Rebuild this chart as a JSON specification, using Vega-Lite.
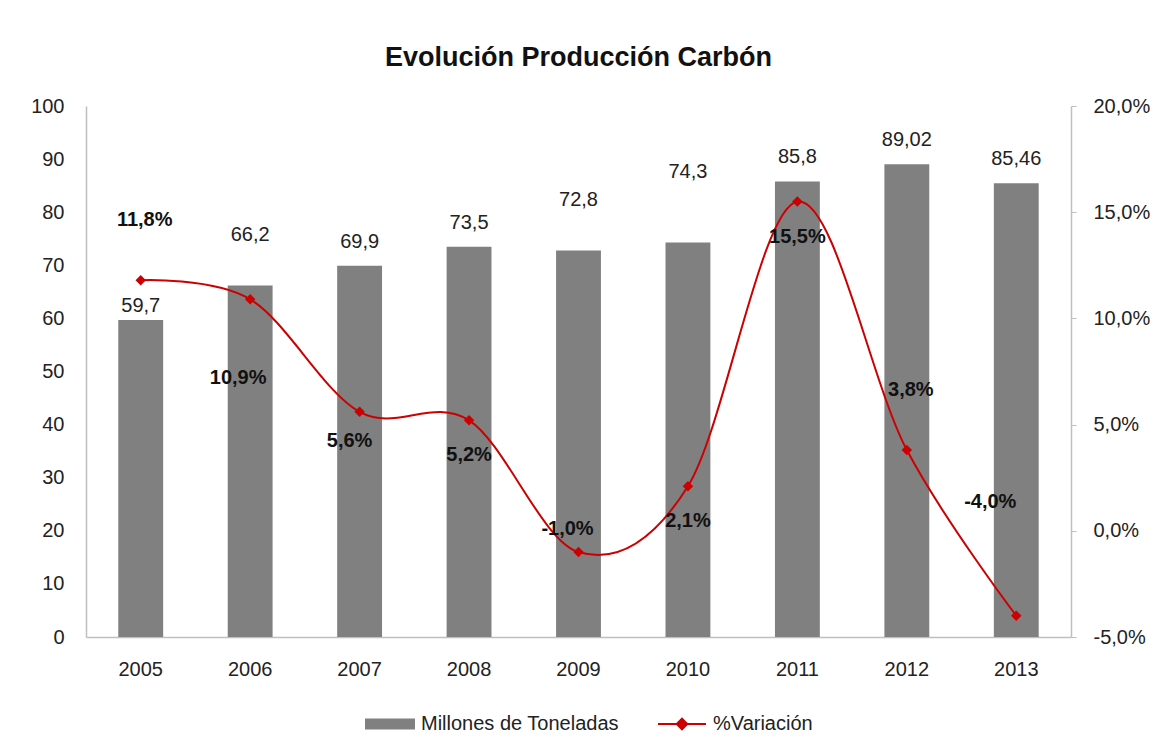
{
  "$schema": "https://vega.github.io/schema/vega-lite/v6.json",
  "autosize": {"type": "none"},
  "padding": {"left": 86, "top": 106, "right": 90, "bottom": 119},
  "width": 985,
  "height": 531,
  "background": "white",
  "title": {
    "text": "Evolución Producción Carbón",
    "font": "Liberation Sans",
    "fontWeight": "bold",
    "fontSize": 27,
    "color": "#111111",
    "anchor": "middle",
    "baseline": "alphabetic",
    "offset": 3
  },
  "config": {
    "locale": {"number": {"decimal": ",", "thousands": ".", "grouping": [3], "currency": ["", " €"], "minus": "-"}},
    "view": {"stroke": null},
    "font": "Liberation Sans",
    "axis": {"labelFont": "Liberation Sans", "labelFontSize": 20, "labelColor": "#222222", "domainColor": "#bfbfbf", "domainWidth": 1.5, "tickColor": "#bfbfbf", "grid": false, "title": null}
  },
  "data": {
    "values": [
      {"year": "2005", "prod": 59.7, "pct": 0.118},
      {"year": "2006", "prod": 66.2, "pct": 0.109},
      {"year": "2007", "prod": 69.9, "pct": 0.056},
      {"year": "2008", "prod": 73.5, "pct": 0.052},
      {"year": "2009", "prod": 72.8, "pct": -0.010},
      {"year": "2010", "prod": 74.3, "pct": 0.021},
      {"year": "2011", "prod": 85.8, "pct": 0.155},
      {"year": "2012", "prod": 89.02, "pct": 0.038},
      {"year": "2013", "prod": 85.46, "pct": -0.040}
    ]
  },
  "encoding": {
    "x": {
      "field": "year", "type": "ordinal",
      "scale": {"paddingInner": 0.59, "paddingOuter": 0.295},
      "axis": {"labelAngle": 0, "ticks": false, "labelPadding": 22}
    }
  },
  "layer": [
    {
      "encoding": {
        "y": {
          "field": "prod", "type": "quantitative",
          "scale": {"domain": [0, 100], "nice": false},
          "axis": {"orient": "left", "values": [0, 10, 20, 30, 40, 50, 60, 70, 80, 90, 100], "ticks": false, "labelPadding": 22}
        }
      },
      "layer": [
        {
          "mark": {"type": "bar", "color": "#808080"},
          "encoding": {"color": {"datum": "Millones de Toneladas", "type": "nominal",
            "scale": {"domain": ["Millones de Toneladas", "%Variación"], "range": ["#808080", "#cc0000"]},
            "legend": {
              "orient": "none", "legendX": 279, "legendY": 593, "direction": "horizontal", "title": null,
              "labelFont": "Liberation Sans", "labelFontSize": 20, "labelColor": "#222222", "labelLimit": 0,
              "symbolSize": 2304, "labelOffset": 6, "columnPadding": 35,
              "encode": {"symbols": {"update": {
                "shape": {"signal": "datum.value === 'Millones de Toneladas' ? 'M-1,-0.19H1V0.19H-1Z' : 'M-1,0H1M0,-0.22L0.22,0L0,0.22L-0.22,0Z'"},
                "fill": {"signal": "datum.value === 'Millones de Toneladas' ? '#808080' : '#cc0000'"},
                "stroke": {"signal": "datum.value === 'Millones de Toneladas' ? 'transparent' : '#cc0000'"},
                "strokeWidth": {"value": 2},
                "size": {"value": 2304},
                "opacity": {"value": 1}
              }}}
            }}}
        },
        {
          "transform": [{"filter": {"field": "year", "oneOf": ["2007", "2008", "2011", "2012", "2013"]}}],
          "mark": {"type": "text", "font": "Liberation Sans", "fontSize": 20, "color": "#222222", "baseline": "middle", "dy": -24},
          "encoding": {"text": {"field": "prod", "type": "quantitative", "format": ".4~r"}}
        },
        {
          "transform": [{"filter": {"field": "year", "equal": "2005"}}],
          "mark": {"type": "text", "font": "Liberation Sans", "fontSize": 20, "color": "#222222", "baseline": "middle", "dy": -14},
          "encoding": {"text": {"field": "prod", "type": "quantitative", "format": ".4~r"}}
        },
        {
          "transform": [{"filter": {"field": "year", "oneOf": ["2006", "2009"]}}],
          "mark": {"type": "text", "font": "Liberation Sans", "fontSize": 20, "color": "#222222", "baseline": "middle", "dy": -50},
          "encoding": {"text": {"field": "prod", "type": "quantitative", "format": ".4~r"}}
        },
        {
          "transform": [{"filter": {"field": "year", "equal": "2010"}}],
          "mark": {"type": "text", "font": "Liberation Sans", "fontSize": 20, "color": "#222222", "baseline": "middle", "dy": -70},
          "encoding": {"text": {"field": "prod", "type": "quantitative", "format": ".4~r"}}
        }
      ]
    },
    {
      "encoding": {
        "y": {
          "field": "pct", "type": "quantitative",
          "scale": {"domain": [-0.05, 0.2], "nice": false, "zero": false},
          "axis": {"orient": "right", "values": [-0.05, 0, 0.05, 0.1, 0.15, 0.2], "format": ".1%", "ticks": true, "tickSize": 5, "labelPadding": 17}
        }
      },
      "layer": [
        {
          "mark": {"type": "line", "interpolate": "cardinal", "tension": 0, "strokeWidth": 2,
            "point": {"shape": "diamond", "size": 110, "filled": true, "color": "#cc0000"}},
          "encoding": {"color": {"datum": "%Variación", "type": "nominal"}}
        },
        {
          "transform": [{"filter": {"field": "year", "oneOf": ["2008", "2010", "2011"]}}],
          "mark": {"type": "text", "font": "Liberation Sans", "fontWeight": "bold", "fontSize": 20, "color": "#111111", "baseline": "middle", "dy": 35},
          "encoding": {"text": {"field": "pct", "type": "quantitative", "format": ".1%"}}
        },
        {
          "transform": [{"filter": {"field": "year", "equal": "2007"}}],
          "mark": {"type": "text", "font": "Liberation Sans", "fontWeight": "bold", "fontSize": 20, "color": "#111111", "baseline": "middle", "dy": 29, "dx": -10},
          "encoding": {"text": {"field": "pct", "type": "quantitative", "format": ".1%"}}
        },
        {
          "transform": [{"filter": {"field": "year", "equal": "2006"}}],
          "mark": {"type": "text", "font": "Liberation Sans", "fontWeight": "bold", "fontSize": 20, "color": "#111111", "baseline": "middle", "dy": 79, "dx": -12},
          "encoding": {"text": {"field": "pct", "type": "quantitative", "format": ".1%"}}
        },
        {
          "transform": [{"filter": {"field": "year", "oneOf": ["2005", "2012"]}}],
          "mark": {"type": "text", "font": "Liberation Sans", "fontWeight": "bold", "fontSize": 20, "color": "#111111", "baseline": "middle", "dy": -60, "dx": 4},
          "encoding": {"text": {"field": "pct", "type": "quantitative", "format": ".1%"}}
        },
        {
          "transform": [{"filter": {"field": "year", "equal": "2009"}}],
          "mark": {"type": "text", "font": "Liberation Sans", "fontWeight": "bold", "fontSize": 20, "color": "#111111", "baseline": "middle", "dy": -23, "dx": -11},
          "encoding": {"text": {"field": "pct", "type": "quantitative", "format": ".1%"}}
        },
        {
          "transform": [{"filter": {"field": "year", "equal": "2013"}}],
          "mark": {"type": "text", "font": "Liberation Sans", "fontWeight": "bold", "fontSize": 20, "color": "#111111", "baseline": "middle", "dy": -114, "dx": -26},
          "encoding": {"text": {"field": "pct", "type": "quantitative", "format": ".1%"}}
        }
      ]
    }
  ],
  "resolve": {"scale": {"y": "independent"}}
}
